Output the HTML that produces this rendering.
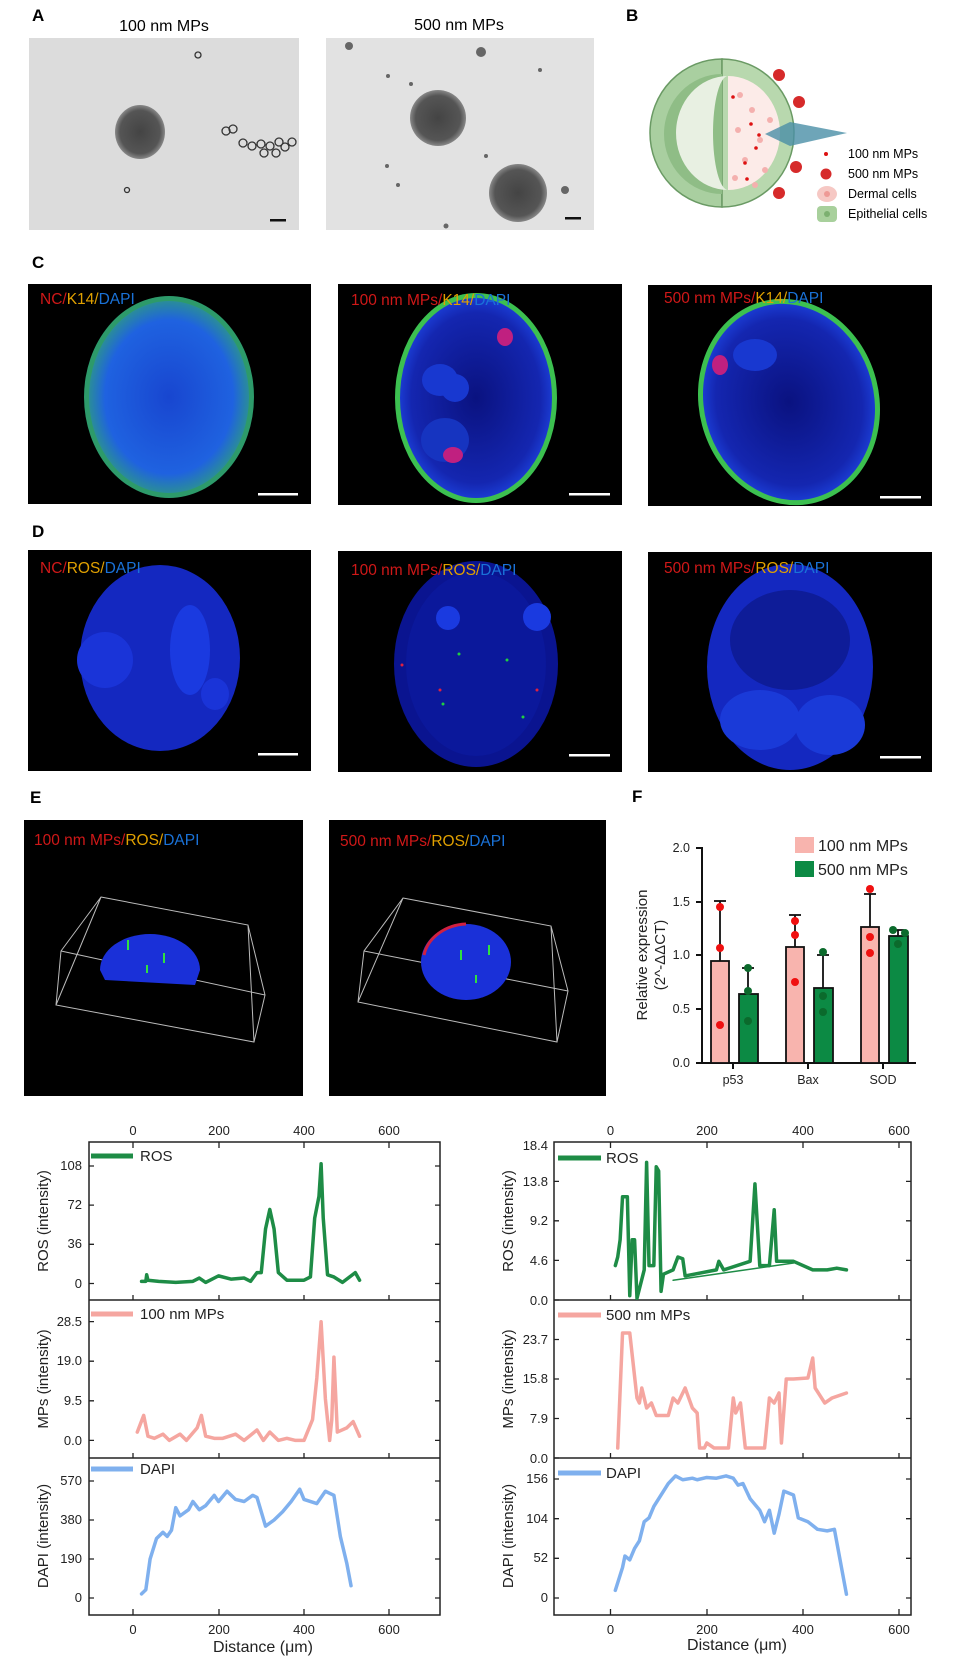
<!DOCTYPE html>
<html><head><meta charset="utf-8"><style>
html,body{margin:0;padding:0;background:#fff}
svg{display:block;font-family:"Liberation Sans",Arial,sans-serif}
</style></head><body>
<svg width="955" height="1667" viewBox="0 0 955 1667" xmlns="http://www.w3.org/2000/svg">
<defs>
<radialGradient id="gA" cx="50%" cy="50%" r="50%"><stop offset="0" stop-color="#444"/><stop offset="0.8" stop-color="#555"/><stop offset="1" stop-color="#888"/></radialGradient>
<radialGradient id="gBlue" cx="50%" cy="50%" r="50%"><stop offset="0" stop-color="#1530c8"/><stop offset="0.85" stop-color="#1a3ad8"/><stop offset="1" stop-color="#1020a0"/></radialGradient>
<radialGradient id="gBlueC" cx="50%" cy="50%" r="50%"><stop offset="0" stop-color="#1846d0"/><stop offset="0.8" stop-color="#1f62e0"/><stop offset="1" stop-color="#2a8c9a"/></radialGradient>
<radialGradient id="gDark" cx="50%" cy="50%" r="50%"><stop offset="0" stop-color="#0a1280"/><stop offset="0.85" stop-color="#1426b0"/><stop offset="1" stop-color="#1a3ad0"/></radialGradient>
</defs>

<!-- A -->
<text x="32" y="21" font-size="17" font-weight="bold">A</text>
<text x="164" y="31" font-size="16" text-anchor="middle">100 nm MPs</text>
<text x="459" y="30" font-size="16" text-anchor="middle">500 nm MPs</text>
<rect x="29" y="38" width="270" height="192" fill="#dcdcdc"/>
<rect x="326" y="38" width="268" height="192" fill="#e2e2e2"/>
<ellipse cx="140" cy="132" rx="25" ry="27" fill="url(#gA)"/>
<g fill="none" stroke="#333" stroke-width="1.3">
<circle cx="198" cy="55" r="3"/><circle cx="127" cy="190" r="2.5"/>
<circle cx="226" cy="131" r="4"/><circle cx="233" cy="129" r="4"/>
<circle cx="243" cy="143" r="4"/><circle cx="252" cy="146" r="4"/><circle cx="261" cy="144" r="4"/><circle cx="270" cy="146" r="4"/><circle cx="279" cy="142" r="4"/><circle cx="264" cy="153" r="4"/><circle cx="276" cy="153" r="4"/><circle cx="285" cy="147" r="4"/><circle cx="292" cy="142" r="4"/>
</g>
<rect x="270" y="219" width="16" height="2.5" fill="#111"/>
<ellipse cx="438" cy="118" rx="28" ry="28" fill="url(#gA)"/>
<ellipse cx="518" cy="193" rx="29" ry="29" fill="url(#gA)"/>
<g fill="#666"><circle cx="349" cy="46" r="4"/><circle cx="481" cy="52" r="5"/><circle cx="388" cy="76" r="2"/><circle cx="411" cy="84" r="2"/><circle cx="540" cy="70" r="2"/><circle cx="387" cy="166" r="2"/><circle cx="565" cy="190" r="4"/><circle cx="446" cy="226" r="2.5"/><circle cx="486" cy="156" r="2"/><circle cx="398" cy="185" r="2"/></g>
<rect x="565" y="217" width="16" height="2.5" fill="#111"/>

<!-- B -->
<text x="626" y="21" font-size="17" font-weight="bold">B</text>
<path d="M722,59 A72,74 0 0 0 722,207 Z" fill="#a9cfa0" stroke="#6a9a64" stroke-width="1.5"/>
<path d="M722,59 A72,74 0 0 1 722,207 Z" fill="#b8d8ae" stroke="#6a9a64" stroke-width="1.5"/>
<path d="M722,74 A58,60 0 0 0 722,194 Z" fill="#8fbd86"/>
<path d="M728,76 A52,57 0 0 0 728,190 A15,57 0 0 1 728,76Z" fill="#e8f0e2"/>
<path d="M728,76 A52,57 0 0 1 728,190 Z" fill="#fcebe8"/>
<g fill="#f4b0ae"><circle cx="740" cy="95" r="3"/><circle cx="752" cy="110" r="3"/><circle cx="738" cy="130" r="3"/><circle cx="760" cy="140" r="3"/><circle cx="745" cy="160" r="3"/><circle cx="765" cy="170" r="3"/><circle cx="735" cy="178" r="3"/><circle cx="770" cy="120" r="3"/><circle cx="755" cy="185" r="3"/></g>
<g fill="#d11"><circle cx="733" cy="97" r="1.8"/><circle cx="751" cy="124" r="1.8"/><circle cx="756" cy="148" r="1.8"/><circle cx="745" cy="163" r="1.8"/><circle cx="747" cy="179" r="1.8"/><circle cx="759" cy="135" r="1.8"/></g>
<g fill="#d62a2a"><circle cx="779" cy="75" r="6"/><circle cx="799" cy="102" r="6"/><circle cx="796" cy="167" r="6"/><circle cx="779" cy="193" r="6"/></g>
<path d="M765,134 L847,133 L790,122 Z M765,134 L847,133 L790,146 Z" fill="#4a8fa6" opacity="0.8"/>
<circle cx="826" cy="154" r="2" fill="#d11"/>
<circle cx="826" cy="174" r="5.5" fill="#d62a2a"/>
<ellipse cx="827" cy="194" rx="10" ry="8" fill="#f6c8c4"/><circle cx="827" cy="194" r="3" fill="#ee9a96"/>
<rect x="817" y="206" width="20" height="16" rx="4" fill="#a8d09c"/><circle cx="827" cy="214" r="3" fill="#7cb070"/>
<g font-size="12.5"><text x="848" y="158">100 nm MPs</text><text x="848" y="178">500 nm MPs</text><text x="848" y="198">Dermal cells</text><text x="848" y="218">Epithelial cells</text></g>

<!-- C -->
<text x="32" y="268" font-size="17" font-weight="bold">C</text>
<rect x="28" y="284" width="283" height="220" fill="#000"/>
<rect x="338" y="284" width="284" height="221" fill="#000"/>
<rect x="648" y="285" width="284" height="221" fill="#000"/>
<ellipse cx="169" cy="397" rx="85" ry="101" fill="#2d9a6a"/>
<ellipse cx="169" cy="397" rx="80" ry="96" fill="url(#gBlueC)"/>
<ellipse cx="476" cy="398" rx="81" ry="105" fill="#3cc050"/>
<ellipse cx="476" cy="398" rx="76" ry="100" fill="url(#gDark)"/>
<ellipse cx="440" cy="380" rx="18" ry="16" fill="#1838d0"/><ellipse cx="455" cy="388" rx="14" ry="14" fill="#1838d0"/><ellipse cx="445" cy="440" rx="24" ry="22" fill="#1634c0"/>
<ellipse cx="453" cy="455" rx="10" ry="8" fill="#c02080"/><ellipse cx="505" cy="337" rx="8" ry="9" fill="#c02080"/>
<ellipse cx="789" cy="402" rx="90" ry="104" transform="rotate(-15 789 402)" fill="#3cc050"/>
<ellipse cx="789" cy="402" rx="85" ry="99" transform="rotate(-15 789 402)" fill="url(#gDark)"/>
<ellipse cx="755" cy="355" rx="22" ry="16" fill="#1838d0"/><ellipse cx="720" cy="365" rx="8" ry="10" fill="#c02080"/>
<g fill="#fff"><rect x="258" y="493" width="40" height="2.5"/><rect x="569" y="493" width="41" height="2.5"/><rect x="880" y="496" width="41" height="2.5"/></g>
<g font-size="15.5">
<text x="40" y="304"><tspan fill="#d01818">NC/</tspan><tspan fill="#e0a000">K14/</tspan><tspan fill="#1a72d8">DAPI</tspan></text>
<text x="351" y="305"><tspan fill="#d01818">100 nm MPs/</tspan><tspan fill="#e0a000">K14/</tspan><tspan fill="#1a72d8">DAPI</tspan></text>
<text x="664" y="303"><tspan fill="#d01818">500 nm MPs/</tspan><tspan fill="#e0a000">K14/</tspan><tspan fill="#1a72d8">DAPI</tspan></text>
</g>

<!-- D -->
<text x="32" y="537" font-size="17" font-weight="bold">D</text>
<rect x="28" y="550" width="283" height="221" fill="#000"/>
<rect x="338" y="551" width="284" height="221" fill="#000"/>
<rect x="648" y="552" width="284" height="220" fill="#000"/>
<ellipse cx="160" cy="658" rx="80" ry="93" fill="#1428c0"/>
<ellipse cx="190" cy="650" rx="20" ry="45" fill="#1a3ae0"/><ellipse cx="105" cy="660" rx="28" ry="28" fill="#1a34d8"/><ellipse cx="215" cy="694" rx="14" ry="16" fill="#1a34d8"/>
<ellipse cx="476" cy="664" rx="82" ry="103" fill="#0a1490"/>
<ellipse cx="476" cy="664" rx="70" ry="92" fill="#0c1aa0" opacity="0.7"/>
<ellipse cx="537" cy="617" rx="14" ry="14" fill="#1a3ae0"/><ellipse cx="448" cy="618" rx="12" ry="12" fill="#1a3ae0"/>
<g fill="#20d040"><circle cx="459" cy="654" r="1.5"/><circle cx="507" cy="660" r="1.5"/><circle cx="443" cy="704" r="1.5"/><circle cx="523" cy="717" r="1.5"/></g>
<g fill="#e02040"><circle cx="402" cy="665" r="1.5"/><circle cx="440" cy="690" r="1.5"/><circle cx="537" cy="690" r="1.5"/></g>
<ellipse cx="790" cy="667" rx="83" ry="103" fill="#1428c0"/>
<ellipse cx="790" cy="640" rx="60" ry="50" fill="#0e1c98"/>
<ellipse cx="760" cy="720" rx="40" ry="30" fill="#1a3ad8"/><ellipse cx="830" cy="725" rx="35" ry="30" fill="#1a3ad8"/>
<g fill="#fff"><rect x="258" y="753" width="40" height="2.5"/><rect x="569" y="754" width="41" height="2.5"/><rect x="880" y="756" width="41" height="2.5"/></g>
<g font-size="15.5">
<text x="40" y="573"><tspan fill="#d01818">NC/</tspan><tspan fill="#e0a000">ROS/</tspan><tspan fill="#1a72d8">DAPI</tspan></text>
<text x="351" y="575"><tspan fill="#d01818">100 nm MPs/</tspan><tspan fill="#e0a000">ROS/</tspan><tspan fill="#1a72d8">DAPI</tspan></text>
<text x="664" y="573"><tspan fill="#d01818">500 nm MPs/</tspan><tspan fill="#e0a000">ROS/</tspan><tspan fill="#1a72d8">DAPI</tspan></text>
</g>

<!-- E -->
<text x="30" y="803" font-size="17" font-weight="bold">E</text>
<rect x="24" y="820" width="279" height="276" fill="#000"/>
<rect x="329" y="820" width="277" height="276" fill="#000"/>
<path d="M101,897 L248,925 L265,995 L254,1042 L56,1005 L61,951 Z M61,951 L265,995 M101,897 L56,1005 M248,925 L254,1042" fill="none" stroke="#bbb" stroke-width="1"/>
<path d="M100,970 A50,36 0 0 1 200,970 L195,985 L105,980 Z" fill="#1a30d8"/>
<g fill="#30e040"><rect x="127" y="940" width="2" height="10"/><rect x="163" y="953" width="2" height="10"/><rect x="146" y="965" width="2" height="8"/></g>
<path d="M403,898 L551,926 L568,991 L557,1042 L358,1002 L364,951 Z M364,951 L568,991 M403,898 L358,1002 M551,926 L557,1042" fill="none" stroke="#bbb" stroke-width="1"/>
<ellipse cx="466" cy="962" rx="45" ry="38" fill="#1a30d8"/>
<path d="M424,955 A45,38 0 0 1 466,924" fill="none" stroke="#d02040" stroke-width="3"/>
<g fill="#30e040"><rect x="460" y="950" width="2" height="10"/><rect x="488" y="945" width="2" height="10"/><rect x="475" y="975" width="2" height="8"/></g>
<g font-size="15.5">
<text x="34" y="845"><tspan fill="#d01818">100 nm MPs/</tspan><tspan fill="#e0a000">ROS/</tspan><tspan fill="#1a72d8">DAPI</tspan></text>
<text x="340" y="846"><tspan fill="#d01818">500 nm MPs/</tspan><tspan fill="#e0a000">ROS/</tspan><tspan fill="#1a72d8">DAPI</tspan></text>
</g>

<!-- F -->
<text x="632" y="802" font-size="17" font-weight="bold">F</text>
<g stroke="#111" stroke-width="2" fill="none">
<line x1="702" y1="847" x2="702" y2="1064"/><line x1="701" y1="1063" x2="916" y2="1063"/>
<line x1="696" y1="848" x2="702" y2="848"/><line x1="696" y1="902" x2="702" y2="902"/><line x1="696" y1="955" x2="702" y2="955"/><line x1="696" y1="1009" x2="702" y2="1009"/><line x1="696" y1="1063" x2="702" y2="1063"/>
<line x1="733" y1="1063" x2="733" y2="1069"/><line x1="808" y1="1063" x2="808" y2="1069"/><line x1="883" y1="1063" x2="883" y2="1069"/>
</g>
<g font-size="12.5" text-anchor="end" fill="#222"><text x="690" y="852">2.0</text><text x="690" y="906">1.5</text><text x="690" y="959">1.0</text><text x="690" y="1013">0.5</text><text x="690" y="1067">0.0</text></g>
<g font-size="12.5" text-anchor="middle" fill="#222"><text x="733" y="1084">p53</text><text x="808" y="1084">Bax</text><text x="883" y="1084">SOD</text></g>
<text transform="translate(647,955) rotate(-90)" font-size="15" text-anchor="middle" fill="#222">Relative expression</text>
<text transform="translate(665,955) rotate(-90)" font-size="15" text-anchor="middle" fill="#222">(2^-ΔΔCT)</text>
<g stroke="#111" stroke-width="1.8">
<line x1="720" y1="961" x2="720" y2="901"/><line x1="714" y1="901" x2="726" y2="901"/>
<line x1="748" y1="994" x2="748" y2="968"/><line x1="742" y1="968" x2="754" y2="968"/>
<line x1="795" y1="947" x2="795" y2="915"/><line x1="789" y1="915" x2="801" y2="915"/>
<line x1="823" y1="988" x2="823" y2="955"/><line x1="817" y1="955" x2="829" y2="955"/>
<line x1="870" y1="927" x2="870" y2="894"/><line x1="864" y1="894" x2="876" y2="894"/>
<line x1="898" y1="936" x2="898" y2="930"/><line x1="892" y1="930" x2="904" y2="930"/>
</g>
<g stroke="#111" stroke-width="1.8">
<rect x="711" y="961" width="18" height="102" fill="#f8b4ae"/>
<rect x="739" y="994" width="19" height="69" fill="#0c8a44"/>
<rect x="786" y="947" width="18" height="116" fill="#f8b4ae"/>
<rect x="814" y="988" width="19" height="75" fill="#0c8a44"/>
<rect x="861" y="927" width="18" height="136" fill="#f8b4ae"/>
<rect x="889" y="936" width="19" height="127" fill="#0c8a44"/>
</g>
<g fill="#f01010"><circle cx="720" cy="907" r="4"/><circle cx="720" cy="948" r="4"/><circle cx="720" cy="1025" r="4"/><circle cx="795" cy="921" r="4"/><circle cx="795" cy="935" r="4"/><circle cx="795" cy="982" r="4"/><circle cx="870" cy="889" r="4"/><circle cx="870" cy="937" r="4"/><circle cx="870" cy="953" r="4"/></g>
<g fill="#0b6a2c"><circle cx="748" cy="968" r="4"/><circle cx="748" cy="991" r="4"/><circle cx="748" cy="1021" r="4"/><circle cx="823" cy="952" r="4"/><circle cx="823" cy="996" r="4"/><circle cx="823" cy="1012" r="4"/><circle cx="893" cy="930" r="4"/><circle cx="905" cy="933" r="4"/><circle cx="898" cy="944" r="4"/></g>
<rect x="795" y="837" width="19" height="16" fill="#f8b4ae"/>
<rect x="795" y="861" width="19" height="16" fill="#0c8a44"/>
<g font-size="16" fill="#222"><text x="818" y="851">100 nm MPs</text><text x="818" y="875">500 nm MPs</text></g>

<!-- Bottom left plots -->
<g fill="none" stroke="#222" stroke-width="1.5">
<rect x="89" y="1142" width="351" height="473"/>
<line x1="89" y1="1300" x2="440" y2="1300"/><line x1="89" y1="1458" x2="440" y2="1458"/>
<rect x="554" y="1142" width="357" height="473"/>
<line x1="554" y1="1300" x2="911" y2="1300"/><line x1="554" y1="1458" x2="911" y2="1458"/>
</g>
<g stroke="#222" stroke-width="1.3">
<!-- left x ticks -->
<path d="M133,1142v6M219,1142v6M304,1142v6M389,1142v6M133,1615v-6M219,1615v-6M304,1615v-6M389,1615v-6M133,1300v-5M219,1300v-5M304,1300v-5M389,1300v-5M133,1458v-5M219,1458v-5M304,1458v-5M389,1458v-5"/>
<path d="M89,1283.5h5M89,1244.3h5M89,1205.1h5M89,1166h5M440,1283.5h-5M440,1244.3h-5M440,1205.1h-5M440,1166h-5"/>
<path d="M89,1440.4h5M89,1400.8h5M89,1361.2h5M89,1321.6h5M440,1440.4h-5M440,1400.8h-5M440,1361.2h-5M440,1321.6h-5"/>
<path d="M89,1598h5M89,1559h5M89,1520h5M89,1481h5M440,1598h-5M440,1559h-5M440,1520h-5M440,1481h-5"/>
<!-- right -->
<path d="M610.5,1142v6M707,1142v6M803,1142v6M899,1142v6M610.5,1615v-6M707,1615v-6M803,1615v-6M899,1615v-6M610.5,1300v-5M707,1300v-5M803,1300v-5M899,1300v-5M610.5,1458v-5M707,1458v-5M803,1458v-5M899,1458v-5"/>
<path d="M554,1300h5M554,1260.4h5M554,1220.8h5M554,1181.4h5M911,1260.4h-5M911,1220.8h-5M911,1181.4h-5"/>
<path d="M554,1458h5M554,1418.5h5M554,1379h5M554,1339.5h5M911,1418.5h-5M911,1379h-5M911,1339.5h-5"/>
<path d="M554,1598h5M554,1558.3h5M554,1518.7h5M554,1479h5M911,1598h-5M911,1558.3h-5M911,1518.7h-5M911,1479h-5"/>
</g>
<g font-size="13" fill="#222" text-anchor="middle">
<text x="133" y="1135">0</text><text x="219" y="1135">200</text><text x="304" y="1135">400</text><text x="389" y="1135">600</text>
<text x="133" y="1634">0</text><text x="219" y="1634">200</text><text x="304" y="1634">400</text><text x="389" y="1634">600</text>
<text x="610.5" y="1135">0</text><text x="707" y="1135">200</text><text x="803" y="1135">400</text><text x="899" y="1135">600</text>
<text x="610.5" y="1634">0</text><text x="707" y="1634">200</text><text x="803" y="1634">400</text><text x="899" y="1634">600</text>
</g>
<g font-size="13" fill="#222" text-anchor="end">
<text x="82" y="1170">108</text><text x="82" y="1209">72</text><text x="82" y="1248">36</text><text x="82" y="1288">0</text>
<text x="82" y="1326">28.5</text><text x="82" y="1365">19.0</text><text x="82" y="1405">9.5</text><text x="82" y="1445">0.0</text>
<text x="82" y="1485">570</text><text x="82" y="1524">380</text><text x="82" y="1563">190</text><text x="82" y="1602">0</text>
<text x="548" y="1150">18.4</text><text x="548" y="1186">13.8</text><text x="548" y="1225">9.2</text><text x="548" y="1265">4.6</text><text x="548" y="1305">0.0</text>
<text x="548" y="1344">23.7</text><text x="548" y="1383">15.8</text><text x="548" y="1423">7.9</text><text x="548" y="1463">0.0</text>
<text x="548" y="1483">156</text><text x="548" y="1523">104</text><text x="548" y="1562">52</text><text x="548" y="1602">0</text>
</g>
<g font-size="15" fill="#222" text-anchor="middle">
<text transform="translate(48,1221) rotate(-90)">ROS (intensity)</text>
<text transform="translate(48,1379) rotate(-90)">MPs (intensity)</text>
<text transform="translate(48,1536) rotate(-90)">DAPI (intensity)</text>
<text transform="translate(513,1221) rotate(-90)">ROS (intensity)</text>
<text transform="translate(513,1379) rotate(-90)">MPs (intensity)</text>
<text transform="translate(513,1536) rotate(-90)">DAPI (intensity)</text>
<text x="263" y="1652" font-size="16">Distance (μm)</text>
<text x="737" y="1650" font-size="16">Distance (μm)</text>
</g>
<!-- legends -->
<g stroke-width="5">
<line x1="91" y1="1156" x2="133" y2="1156" stroke="#1e8c46"/>
<line x1="91" y1="1314" x2="133" y2="1314" stroke="#f5a6a0"/>
<line x1="91" y1="1469" x2="133" y2="1469" stroke="#7fb0ee"/>
<line x1="558" y1="1158" x2="601" y2="1158" stroke="#1e8c46"/>
<line x1="558" y1="1315" x2="601" y2="1315" stroke="#f5a6a0"/>
<line x1="558" y1="1473" x2="601" y2="1473" stroke="#7fb0ee"/>
</g>
<g font-size="15" fill="#222">
<text x="140" y="1161">ROS</text><text x="140" y="1319">100 nm MPs</text><text x="140" y="1474">DAPI</text>
<text x="606" y="1163">ROS</text><text x="606" y="1320">500 nm MPs</text><text x="606" y="1478">DAPI</text>
</g>
<!-- series -->
<g fill="none" stroke-linejoin="round" stroke-linecap="round">
<g transform="translate(133,1283.5) scale(0.4275,-1.089)" stroke="#1e8c46">
<polyline vector-effect="non-scaling-stroke" stroke-width="3.5" points="20,2 30,2 32,8 35,3 60,2 100,1 140,2 155,5 170,1 200,7 230,4 260,5 275,2 290,10 300,10 310,50 320,68 330,50 340,10 360,3 400,3 415,6 425,60 435,80 440,110 445,60 455,8 470,6 490,1 520,10 530,3"/>
</g>
<g transform="translate(133,1440.4) scale(0.4275,-4.165)" stroke="#f5a6a0">
<polyline vector-effect="non-scaling-stroke" stroke-width="3.5" points="10,2 25,6 35,1 50,0.5 70,1.5 85,0 110,1.5 125,0 150,3 160,6 170,1 190,0.5 210,0.5 240,1.5 260,0 290,2.5 305,0 320,2 340,0 360,0.5 380,0 400,0 420,5 430,15 440,28.5 450,10 460,0 465,5 470,20 478,2 500,3 515,4.5 530,1"/>
</g>
<g transform="translate(133,1598) scale(0.4275,-0.2053)" stroke="#7fb0ee">
<polyline vector-effect="non-scaling-stroke" stroke-width="3.5" points="20,20 30,40 40,190 55,290 70,320 80,300 90,330 100,440 110,400 130,430 140,470 155,430 170,450 190,500 200,470 220,520 240,480 260,470 280,500 290,490 310,350 330,380 350,420 370,470 390,530 400,480 430,460 450,520 460,510 470,500 485,300 500,170 510,60"/>
</g>
<g transform="translate(610.5,1300) scale(0.4815,-8.6)" stroke="#1e8c46">
<polyline vector-effect="non-scaling-stroke" stroke-width="1.5" points="130,2.3 380,4.3"/>
<polyline vector-effect="non-scaling-stroke" stroke-width="3.5" points="10,4 15,5 20,7 25,12 35,12 40,0.5 45,7 50,7 55,0.2 70,3.5 75,16 80,4 90,4 95,15.5 100,15 105,1 110,3 130,3.5 140,5 150,4.8 155,2.8 220,3.5 225,4.5 235,3.5 290,4.5 300,13.5 310,4 330,4 340,10.5 345,4.5 380,4.5 420,3.5 450,3.5 470,3.7 490,3.5"/>
</g>
<g transform="translate(610.5,1458) scale(0.4815,-5.0)" stroke="#f5a6a0">
<polyline vector-effect="non-scaling-stroke" stroke-width="3.5" points="15,2 25,25 40,25 55,12 60,11 65,14 75,10 85,11 95,8.5 120,8.5 130,12 140,11 155,14 170,10 180,9 185,2 195,2 200,3 215,2 245,2 255,12 260,9 270,11 280,2 320,2 330,12 340,11 350,13 355,3 365,15.8 380,15.8 410,16 420,20 425,14 445,11 460,12 490,13"/>
</g>
<g transform="translate(610.5,1598) scale(0.4815,-0.763)" stroke="#7fb0ee">
<polyline vector-effect="non-scaling-stroke" stroke-width="3.5" points="10,10 25,40 30,55 40,50 50,65 60,75 70,100 80,105 90,120 100,130 120,150 135,160 150,155 170,157 180,155 200,158 220,157 240,160 255,157 265,148 275,150 290,130 310,115 320,100 330,115 340,85 350,110 360,140 380,135 390,105 410,100 430,90 450,88 465,90 490,5"/>
</g>
</g>
</svg>
</body></html>
